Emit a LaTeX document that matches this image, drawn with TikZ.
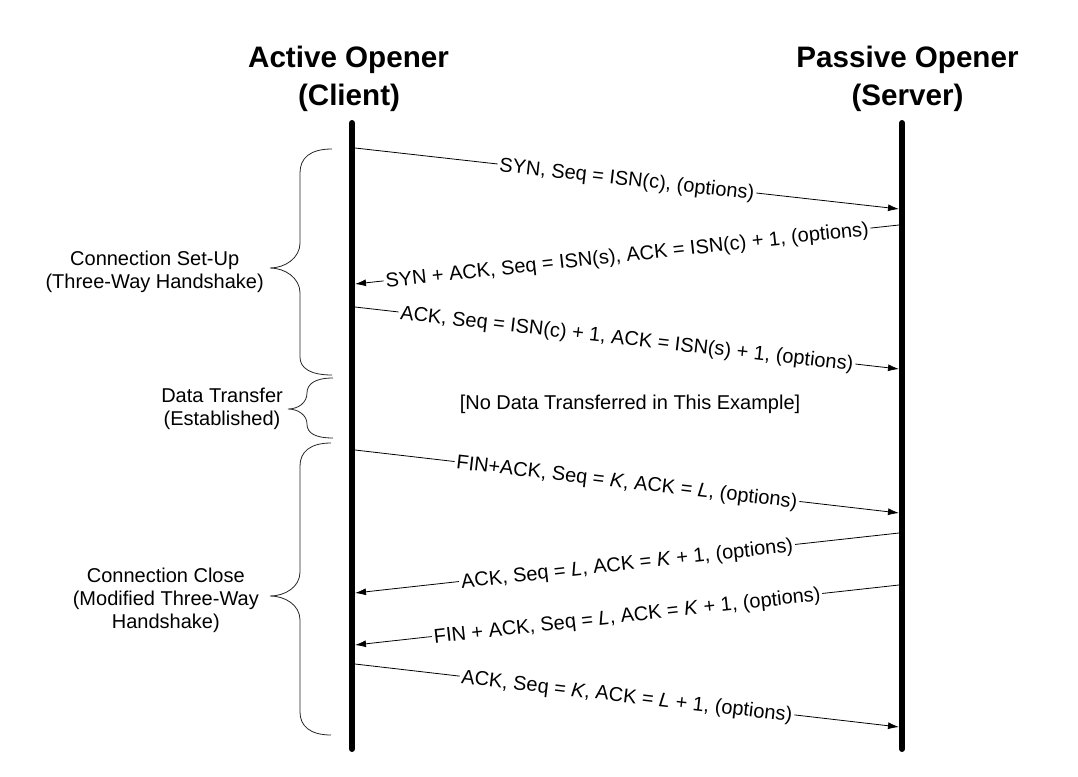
\documentclass[tikz,border=0pt]{standalone}
\usepackage{fontspec}
\setmainfont{Liberation Sans}
\usetikzlibrary{arrows.meta}
\begin{document}
\begin{tikzpicture}[x=1pt,y=-1pt,
  lifeline/.style={line width=6pt, line cap=round},
  msg/.style={line width=0.8pt, -{Latex[length=11pt,width=7pt]}},
  msglabel/.style={midway, sloped, fill=white, inner xsep=2pt, inner ysep=0pt,
    text height=16pt, text depth=2pt, font=\fontsize{20}{24}\selectfont},
  titletext/.style={anchor=base, inner sep=0pt, font=\fontsize{29.6}{36}\selectfont\bfseries},
  phase/.style={anchor=east, align=center, inner sep=0pt, font=\fontsize{20}{23}\selectfont},
  note/.style={inner sep=0pt, font=\fontsize{20}{24}\selectfont},
  bracestyle/.style={line width=0.8pt, black!85}]
\fill[white] (0,0) rectangle (1078,776);
\useasboundingbox (0,0) rectangle (1078,776);

% titles
\node[titletext] (tc1) at (348.5,67) {Active Opener};
\node[titletext] (tc2) at (349,105) {(Client)};
\node[titletext] (ts1) at (907.5,67) {Passive Opener};
\node[titletext] (ts2) at (907.5,105) {(Server)};

% lifelines
\coordinate (C0) at (352,123); \coordinate (C1) at (352,749);
\coordinate (S0) at (902,123); \coordinate (S1) at (902,749);
\draw[lifeline] (C0) -- (C1);
\draw[lifeline] (S0) -- (S1);

% message endpoints
\coordinate (c1) at (355,148); \coordinate (s1) at (899,209);
\coordinate (s2) at (899,225); \coordinate (c2) at (355,284);
\coordinate (c3) at (355,307); \coordinate (s3) at (899,369);
\coordinate (c4) at (355,450); \coordinate (s4) at (899,513);
\coordinate (s5) at (899,533); \coordinate (c5) at (355,593);
\coordinate (s6) at (899,585); \coordinate (c6) at (355,645);
\coordinate (c7) at (355,664); \coordinate (s7) at (899,727);

\draw[msg] (c1) -- node[msglabel] (m1) {SYN, Seq = ISN(c), (options)} (s1);
\draw[msg] (s2) -- node[msglabel] (m2) {SYN + ACK, Seq = ISN(s), ACK = ISN(c) + 1, (options)} (c2);
\draw[msg] (c3) -- node[msglabel] (m3) {ACK, Seq = ISN(c) + 1, ACK = ISN(s) + 1, (options)} (s3);
\draw[msg] (c4) -- node[msglabel] (m4) {FIN+ACK, Seq = \textit{K}, ACK = \textit{L}, (options)} (s4);
\draw[msg] (s5) -- node[msglabel] (m5) {ACK, Seq = \textit{L}, ACK = \textit{K} + 1, (options)} (c5);
\draw[msg] (s6) -- node[msglabel] (m6) {FIN + ACK, Seq = \textit{L}, ACK = \textit{K} + 1, (options)} (c6);
\draw[msg] (c7) -- node[msglabel] (m7) {ACK, Seq = \textit{K}, ACK = \textit{L} + 1, (options)} (s7);

\node[note] (nodata) at (630,404) {[No Data Transferred in This Example]};

% braces
\draw[bracestyle] (332,149) .. controls (310,149) and (300,158) .. (300,173) -- (300,243)
  .. controls (300,258) and (285,268) .. (270,268)
  .. controls (285,268) and (300,278) .. (300,293) -- (300,357)
  .. controls (300,368) and (310,375) .. (332,375);
\draw[bracestyle] (333,378) .. controls (315,378) and (307,384) .. (307,393)
  .. controls (307,403) and (298,409) .. (288,409)
  .. controls (298,409) and (307,415) .. (307,424)
  .. controls (307,433) and (315,438) .. (333,438);
\draw[bracestyle] (331,443) .. controls (310,443) and (300,452) .. (300,466) -- (300,572)
  .. controls (300,587) and (285,596) .. (270,596)
  .. controls (285,596) and (300,605) .. (300,620) -- (300,712)
  .. controls (300,726) and (310,735) .. (331,735);

% phase labels
\node[phase] (p1) at (264,272) {Connection Set-Up\\(Three-Way Handshake)};
\node[phase] (p2) at (283,409) {Data Transfer\\(Established)};
\node[phase] (p3) at (259,600) {Connection Close\\(Modified Three-Way\\Handshake)};
\end{tikzpicture}
\end{document}
